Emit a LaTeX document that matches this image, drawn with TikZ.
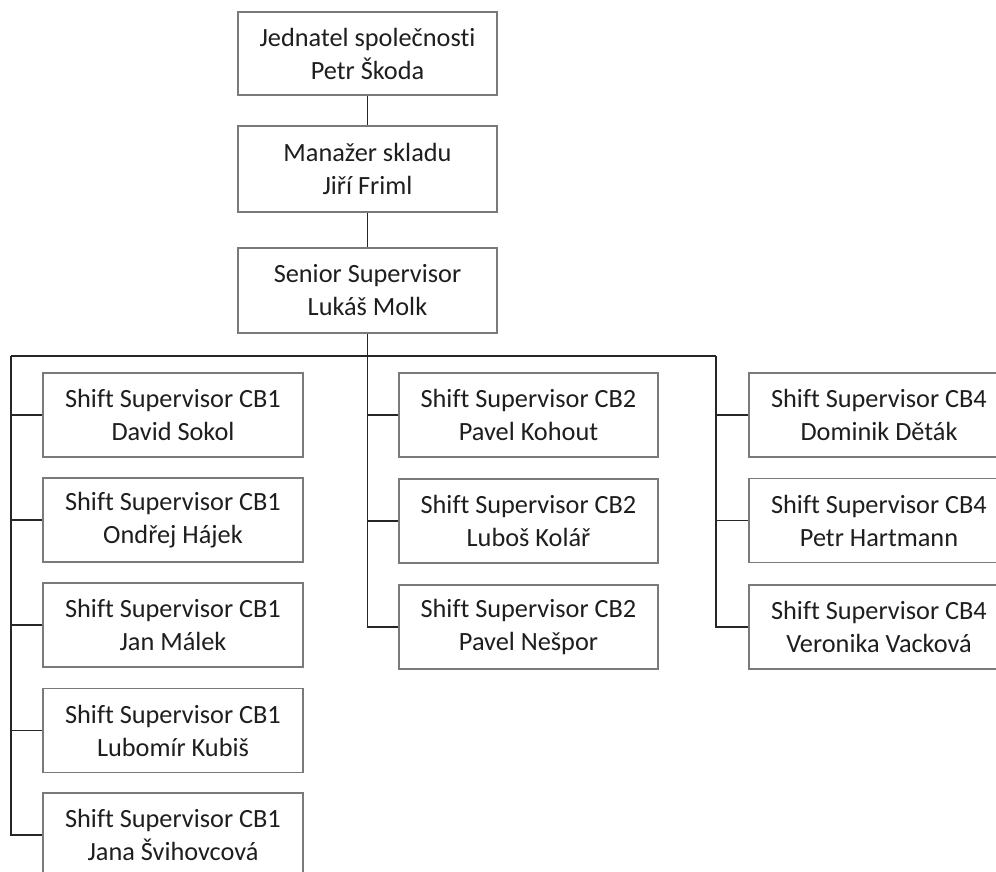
\documentclass[tikz,border=0pt]{standalone}
\usepackage{fontspec}
\setmainfont[Ligatures=NoCommon]{Carlito}
\definecolor{boxline}{HTML}{7A7A7A}
\definecolor{txt}{HTML}{1E1E1E}
\begin{document}
\begin{tikzpicture}[x=1pt,y=-1pt,
  orgbox/.style={draw=boxline, line width=1.6pt, fill=white, rectangle,
    minimum width=260pt, minimum height=84pt, inner sep=0pt,
    align=center, text=txt, font=\fontsize{26.3}{33}\selectfont},
  conn/.style={draw=black!85, line width=1.1pt}]
\useasboundingbox (0,0) rectangle (996,872);
\clip (0,0) rectangle (996,872);
% top chain
\node[orgbox, minimum width=259pt, minimum height=83pt] (top) at (367.5,53.5) {Jednatel společnosti\\Petr Škoda};
\node[orgbox, minimum width=259pt, minimum height=86pt] (mgr) at (367.5,169) {Manažer skladu\\Jiří Friml};
\node[orgbox, minimum width=259pt, minimum height=85pt] (sen) at (367.5,290.5) {Senior Supervisor\\Lukáš Molk};
% CB1
\node[orgbox] (a1) at (173,415) {Shift Supervisor CB1\\David Sokol};
\node[orgbox] (a2) at (173,520) {Shift Supervisor CB1\\Ondřej Hájek};
\node[orgbox] (a3) at (173,625) {Shift Supervisor CB1\\Jan Málek};
\node[orgbox] (a4) at (173,730.5) {Shift Supervisor CB1\\Lubomír Kubiš};
\node[orgbox] (a5) at (173,835) {Shift Supervisor CB1\\Jana Švihovcová};
% CB2
\node[orgbox, minimum width=259pt] (b1) at (528.5,415) {Shift Supervisor CB2\\Pavel Kohout};
\node[orgbox, minimum width=259pt] (b2) at (528.5,521) {Shift Supervisor CB2\\Luboš Kolář};
\node[orgbox, minimum width=259pt] (b3) at (528.5,627) {Shift Supervisor CB2\\Pavel Nešpor};
% CB4
\node[orgbox] (d1) at (879,415) {Shift Supervisor CB4\\Dominik Děták};
\node[orgbox] (d2) at (879,520.5) {Shift Supervisor CB4\\Petr Hartmann};
\node[orgbox] (d3) at (879,627) {Shift Supervisor CB4\\Veronika Vacková};
% bus
\coordinate (busL) at (11,356);
\coordinate (busR) at (716,356);
\coordinate (busM) at (sen.south |- busL);
\draw[conn] (top.south) -- (mgr.north);
\draw[conn] (mgr.south) -- (sen.north);
\draw[conn] (sen.south) -- (busM);
\draw[conn] (busL) -- (busR);
\foreach \n in {a1,a2,a3,a4,a5} \draw[conn] (busL) |- (\n.west);
\foreach \n in {b1,b2,b3} \draw[conn] (busM) |- (\n.west);
\foreach \n in {d1,d2,d3} \draw[conn] (busR) |- (\n.west);
\end{tikzpicture}
\end{document}
